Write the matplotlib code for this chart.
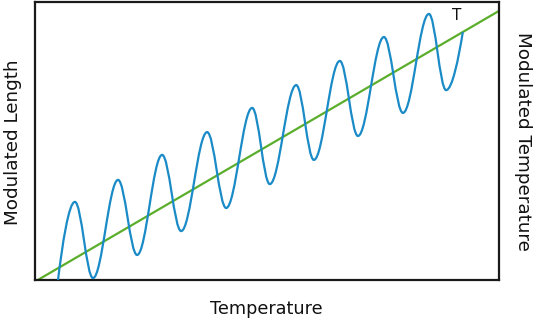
import numpy as np
import matplotlib.pyplot as plt
from matplotlib.path import Path
from matplotlib.patches import PathPatch

# green line: temperature ramp (x, y in axis units 0..100)
ramp_x = [0.6, 100.0]
ramp_y = [0.0, 96.8]

# blue curve: start, alternating peaks / troughs, end
wave_x = [4.96, 8.6, 12.5, 17.9, 22.0, 27.4, 31.5, 37.1, 41.2, 46.8, 50.6,
          56.3, 60.1, 65.7, 69.6, 75.2, 79.3, 84.9, 88.6, 92.2]
wave_y = [0.0, 28.1, 0.7, 36.0, 9.0, 45.0, 17.6, 53.2, 25.9, 61.9, 34.5,
          70.1, 43.2, 78.8, 51.8, 87.4, 60.1, 95.7, 68.3, 89.2]

blue = "#1a8bc7"
green = "#5bae2c"

fig = plt.figure(figsize=(5.36, 3.21), dpi=100)
ax = fig.add_axes([35 / 536, 41 / 321, 464 / 536, 278 / 321])
ax.set_xlim(0, 100)
ax.set_ylim(0, 100)
ax.set_xticks([])
ax.set_yticks([])
for s in ax.spines.values():
    s.set_linewidth(1.6)
    s.set_color("#1a1a1a")

ax.plot(ramp_x, ramp_y, color=green, lw=1.6, solid_capstyle="butt", zorder=2)

# smooth curve through the extrema with cubic bezier segments
k = 0.364
verts = [(wave_x[0], wave_y[0])]
codes = [Path.MOVETO]
n = len(wave_x)
for i in range(n - 1):
    x0, y0 = wave_x[i], wave_y[i]
    x1, y1 = wave_x[i + 1], wave_y[i + 1]
    dx = x1 - x0
    if i == 0:
        c1 = (x0 + dx * 0.25, y0 + (y1 - y0) * 0.45)
    else:
        c1 = (x0 + dx * k, y0)
    if i == n - 2:
        c2 = (x1 - dx * 0.25, y1 - (y1 - y0) * 0.45)
    else:
        c2 = (x1 - dx * k, y1)
    verts += [c1, c2, (x1, y1)]
    codes += [Path.CURVE4] * 3
ax.add_patch(PathPatch(Path(verts, codes), facecolor="none", edgecolor=blue,
                       lw=1.6, zorder=3))

ax.text(90.9, 95.1, "T", fontsize=11, ha="center", va="center", color="#111111")

fig.text(266.5 / 536, 1 - 309 / 321, "Temperature", fontsize=12.7,
         ha="center", va="center", color="#111111")
fig.text(13 / 536, 1 - 142 / 321, "Modulated Length", fontsize=13.2,
         rotation=90, ha="center", va="center", color="#111111")
fig.text(523 / 536, 1 - 141 / 321, "Modulated Temperature", fontsize=13.2,
         rotation=-90, ha="center", va="center", color="#111111")

fig.savefig("out.png", dpi=100)
